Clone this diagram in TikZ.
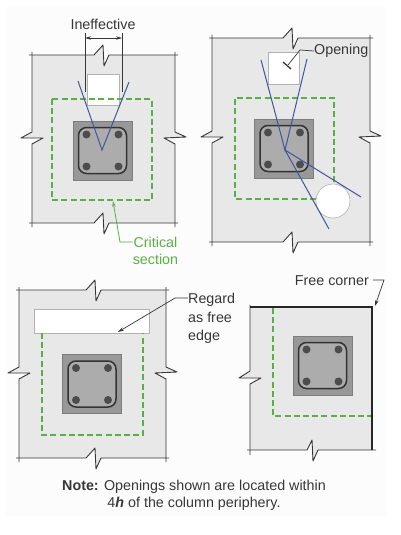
\documentclass[tikz,border=0pt]{standalone}
\usepackage{fontspec}
\setmainfont{Liberation Sans}
\usetikzlibrary{arrows.meta}
\definecolor{slabgray}{RGB}{232,232,232}
\definecolor{colgray}{RGB}{152,152,152}
\definecolor{coredge}{RGB}{125,125,125}
\definecolor{tiegray}{RGB}{172,172,172}
\definecolor{pagegray}{RGB}{252,252,252}
\definecolor{critgreen}{RGB}{90,175,70}
\definecolor{crackblue}{RGB}{65,85,160}
\definecolor{inkgray}{RGB}{55,55,55}
\tikzset{
  slabline/.style={draw=inkgray,line width=0.9pt,line join=round},
  slabfill/.style={fill=slabgray,draw=none},
  freeedge/.style={draw=black!85,line width=1.1pt},
  critline/.style={draw=critgreen,line width=1.3pt,dash pattern=on 6pt off 3.2pt},
  crack/.style={draw=crackblue,line width=1pt},
  opening/.style={fill=white,draw=gray!60,line width=0.6pt},
  column/.style={fill=colgray,draw=coredge,line width=0.4pt},
  tie/.style={draw=black!80,line width=1.5pt,rounded corners=8pt,fill=tiegray},
  rebar/.style={fill=black!70,draw=none},
  label/.style={font=\fontsize{14.3}{16.5}\selectfont,text=inkgray,inner sep=0pt},
  greenlabel/.style={label,text=critgreen,align=center},
  leader/.style={draw=inkgray,line width=0.7pt},
  tipped/.style={-{Stealth[length=6pt,width=3.5pt]}},
}
% column with its tie and four bars: cx, cy is the centre
\newcommand{\colgroup}[2]{%
  \begin{scope}[shift={(#1,#2)}]
    \path[column] (-29.5,-29.5) rectangle (29.5,29.5);
    \path[tie] (-24,-23) rectangle (24,23);
    \path[rebar] (-16,-16) circle (4);
    \path[rebar] (16,-16) circle (4);
    \path[rebar] (-16,16) circle (4);
    \path[rebar] (16,16) circle (4);
  \end{scope}}
% slab: left top right bottom, breakx, breaky
\newcommand{\slabfull}[6]{%
  \path[slabfill] (#1,#2) -- (#5-7,#2) -- (#5+2,#2-10) -- (#5+3,#2+11) -- (#5+8,#2) -- (#3,#2)
    -- (#3,#6-6) -- (#3+11,#6-1) -- (#3-11,#6) -- (#3,#6+6) -- (#3,#4)
    -- (#5+8,#4) -- (#5+3,#4+11) -- (#5+2,#4-10) -- (#5-7,#4) -- (#1,#4)
    -- (#1,#6+6) -- (#1+11,#6) -- (#1-11,#6) -- (#1,#6-6) -- cycle;
  \draw[slabline] (#1-3,#2) -- (#5-7,#2) -- (#5+2,#2-10) -- (#5+3,#2+11) -- (#5+8,#2) -- (#3+3,#2);
  \draw[slabline] (#1-3,#4) -- (#5-7,#4) -- (#5+2,#4-10) -- (#5+3,#4+11) -- (#5+8,#4) -- (#3+3,#4);
  \draw[slabline] (#1,#2-3) -- (#1,#6-6) -- (#1-11,#6) -- (#1+11,#6) -- (#1,#6+6) -- (#1,#4+4);
  \draw[slabline] (#3,#2-3) -- (#3,#6-6) -- (#3+11,#6-1) -- (#3-11,#6) -- (#3,#6+6) -- (#3,#4+4);}
\begin{document}
\begin{tikzpicture}[x=1pt,y=-1pt]
\useasboundingbox (0,0) rectangle (401,535);
\fill[white] (0,0) rectangle (401,535);
\fill[pagegray] (6,6) rectangle (386,516);

% ---- panel 1
\slabfull{32}{55}{175}{223}{101}{138}
\path[opening] (87,74) rectangle (119,105);
\draw[critline] (52,99) rectangle (152,200);
\colgroup{102.5}{150.5}
\coordinate (apexA) at (102,150);
\coordinate (crackAl) at (78,81);
\coordinate (crackAr) at (129,82);
\draw[crack] (crackAl) -- (apexA) -- (crackAr);
\coordinate (dimLt) at (85,33);
\coordinate (dimLb) at (85,92);
\coordinate (dimRt) at (122,33);
\coordinate (dimRb) at (122,92);
\draw[leader] (dimLt) -- (dimLb);
\draw[leader] (dimRt) -- (dimRb);
\coordinate (dimL) at (85,38);
\coordinate (dimR) at (122,38);
\draw[leader,{Stealth[length=6pt,width=3.5pt]}-{Stealth[length=6pt,width=3.5pt]}] (dimL) -- (dimR);
\node[label] (ineff) at (103,24) {Ineffective};
\node[greenlabel] (crit) at (155.5,251) {Critical\\[1pt]section};
\coordinate (critTip) at (113,201);
\coordinate (critBend) at (120,242);
\draw[draw=critgreen,line width=0.8pt,tipped] (crit.west |- 0,242) -- (critBend) -- (critTip);

% ---- panel 2
\slabfull{212}{38}{370}{242}{290}{137}
\path[opening] (268,52) rectangle (299,84);
\draw[critline] (316,199) -- (235,199) -- (235,98) -- (334,98) -- (334,183);
\path[opening] (333,201) circle (17);
\colgroup{284}{148.5}
\coordinate (apexB) at (285,150);
\coordinate (crackBa) at (261,60);
\coordinate (crackBb) at (307,59);
\coordinate (crackBc) at (361,197);
\coordinate (crackBd) at (329,229);
\draw[crack] (crackBa) -- (apexB) -- (crackBb);
\draw[crack] (crackBc) -- (apexB) -- (crackBd);
\node[label,anchor=west] (open) at (314,51) {Opening};
\coordinate (openBend) at (300,50);
\coordinate (openTip) at (288,65);
\coordinate (tickA) at (283,62);
\coordinate (tickB) at (291,69);
\draw[leader] (open.west) -- (openBend) -- (openTip);
\draw[draw=inkgray,line width=1.3pt] (tickA) -- (tickB);

% ---- panel 3
\slabfull{19}{290}{166}{458}{93}{373}
\path[opening] (34,309) rectangle (149,333);
\draw[critline] (42,333) -- (42,435) -- (143,435) -- (143,333);
\colgroup{92}{384}
\node[label,anchor=north west,align=left] (regard) at (188,293) {Regard\\[2pt]as free\\[2pt]edge};
\coordinate (regardBend) at (175,298);
\coordinate (regardTip) at (118,332);
\draw[leader,tipped] (regard.west |- regardBend) -- (regardBend) -- (regardTip);

% ---- panel 4
\path[slabfill] (250,307) -- (372,307) -- (372,450) -- (318,450) -- (313,461) -- (312,440) -- (307,450)
  -- (250,450) -- (250,384) -- (261,378) -- (239,378) -- (250,372) -- cycle;
\draw[slabline] (250,305) -- (250,371) -- (239,378) -- (261,378) -- (250,384) -- (250,455);
\draw[slabline] (247,450) -- (307,450) -- (312,440) -- (313,461) -- (318,450) -- (376,450);
\draw[critline] (273,308) -- (273,416) -- (372,416);
\draw[freeedge] (250,307) -- (372,307) -- (372,450);
\colgroup{322.5}{365.5}
\node[label,anchor=east] (corner) at (369,281) {Free corner};
\coordinate (cornerBend) at (384,280);
\coordinate (cornerTip) at (375,306);
\draw[leader,tipped] (373,280) -- (cornerBend) -- (cornerTip);

% ---- note
\node[label,align=center] (note) at (194,495.5) {\textbf{Note:} Openings shown are located within\\[1pt]4\textbf{\textit{h}} of the column periphery.};
\end{tikzpicture}
\end{document}
